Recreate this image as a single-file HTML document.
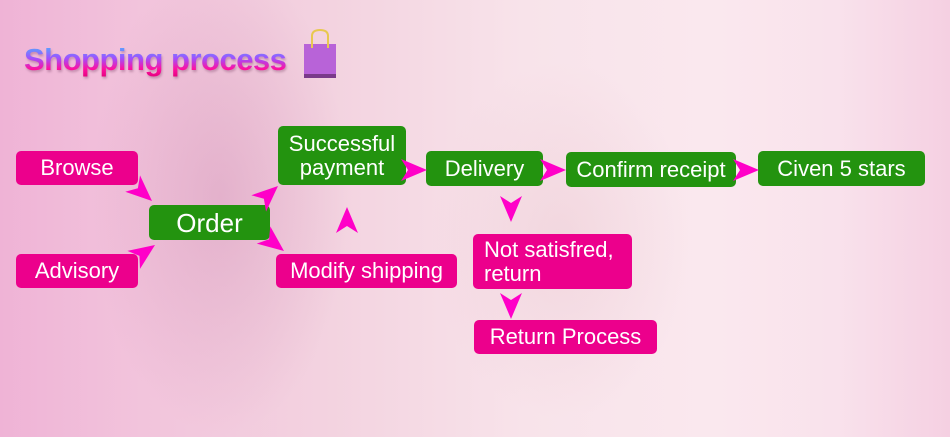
<!DOCTYPE html>
<html><head><meta charset="utf-8"><style>
html,body{margin:0;padding:0}
body{width:950px;height:437px;overflow:hidden;position:relative;font-family:"Liberation Sans",sans-serif;
background:linear-gradient(90deg,#efb3d6 0%,#f2c4dc 15%,#f3d3e0 35%,#f8e3ea 55%,#fae8ee 75%,#f9e2ec 88%,#f5d0e2 100%);}
.bg1{position:absolute;left:90px;top:0;width:260px;height:437px;background:radial-gradient(ellipse at 50% 45%,rgba(200,130,170,0.35),rgba(200,130,170,0) 70%);}
.bg2{position:absolute;left:430px;top:60px;width:260px;height:360px;background:radial-gradient(ellipse at 50% 50%,rgba(230,190,200,0.35),rgba(230,190,200,0) 70%);}
.b{position:absolute;color:#fff;border-radius:5px;font-size:22px;display:flex;align-items:center;justify-content:center;text-align:center;line-height:24px;}
.g{background:#23930f}.p{background:#ec008c}
.t{position:absolute;left:24px;top:42px;font-size:31px;font-weight:bold;letter-spacing:-0.5px;
background:linear-gradient(180deg,#38c8ff 0%,#a050ff 45%,#ff10a0 75%,#e0007a 100%);-webkit-background-clip:text;background-clip:text;color:transparent;filter:drop-shadow(1px 2px 1px rgba(120,60,100,0.35));}
</style></head><body>
<div class="bg1"></div><div class="bg2"></div>
<div class="t">Shopping process</div>
<svg style="position:absolute;left:298px;top:28px" width="42" height="52">
<rect x="6" y="16" width="32" height="32" fill="#b863d8"/>
<rect x="6" y="46" width="32" height="4" fill="#7a3a8a"/>
<path d="M14 20 V8 Q14 2 22 2 Q30 2 30 8 V20" fill="none" stroke="#e8c850" stroke-width="2"/>
</svg>
<div class="b p" style="left:16px;top:151px;width:122px;height:34px">Browse</div>
<div class="b p" style="left:16px;top:254px;width:122px;height:34px">Advisory</div>
<div class="b g" style="left:149px;top:205px;width:121px;height:35px;font-size:26px">Order</div>
<div class="b g" style="left:278px;top:126px;width:128px;height:59px">Successful<br>payment</div>
<div class="b p" style="left:276px;top:254px;width:181px;height:34px">Modify shipping</div>
<div class="b g" style="left:426px;top:151px;width:117px;height:35px">Delivery</div>
<div class="b g" style="left:566px;top:152px;width:170px;height:35px">Confirm receipt</div>
<div class="b g" style="left:758px;top:151px;width:167px;height:35px">Civen 5 stars</div>
<div class="b p" style="left:473px;top:234px;width:159px;height:55px;justify-content:flex-start;text-align:left;padding-left:11px;box-sizing:border-box">Not satisfred,<br>return</div>
<div class="b p" style="left:474px;top:320px;width:183px;height:34px">Return Process</div>
<svg style="position:absolute;left:0;top:0" width="950" height="437">
<g fill="#ff00c8">
<polygon points="0,0 -26,-11 -19,0 -26,11" transform="translate(152,201) rotate(42)"/>
<polygon points="0,0 -26,-11 -19,0 -26,11" transform="translate(155,245) rotate(-35)"/>
<polygon points="0,0 -26,-11 -19,0 -26,11" transform="translate(278,186) rotate(-42)"/>
<polygon points="0,0 -26,-11 -19,0 -26,11" transform="translate(284,251) rotate(38)"/>
<polygon points="0,0 -26,-11 -19,0 -26,11" transform="translate(347,207) rotate(-90)"/>
<polygon points="0,0 -26,-11 -19,0 -26,11" transform="translate(427,170)"/>
<polygon points="0,0 -26,-11 -19,0 -26,11" transform="translate(566,170)"/>
<polygon points="0,0 -26,-11 -19,0 -26,11" transform="translate(759,170)"/>
<polygon points="0,0 -26,-11 -19,0 -26,11" transform="translate(511,222) rotate(90)"/>
<polygon points="0,0 -26,-11 -19,0 -26,11" transform="translate(511,319) rotate(90)"/>
</g></svg>
</body></html>
